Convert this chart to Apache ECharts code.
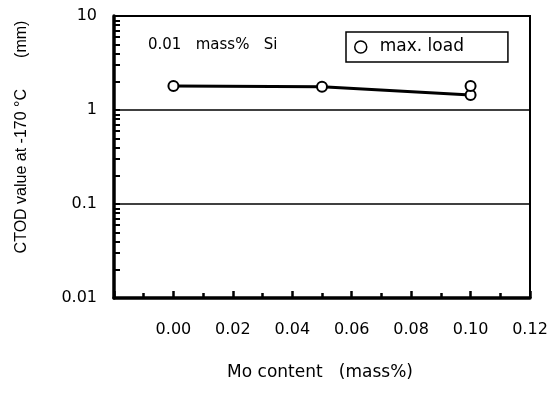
<!DOCTYPE html>
<html>
<head>
<meta charset="utf-8">
<script src="https://cdn.jsdelivr.net/npm/echarts@6/dist/echarts.min.js"></script>
<style>html,body{margin:0;padding:0;background:#fff}#c{width:555px;height:394px}</style>
</head>
<body>
<div id="c"></div>
<script>
// Data
const seriesName = 'max. load';
const moContent = [0.00, 0.05, 0.10];
const ctodLine = [1.80, 1.77, 1.44];
const extraMo = [0.10];
const extraCtod = [1.80];
const xTickLabels = ['0.00', '0.02', '0.04', '0.06', '0.08', '0.10', '0.12'];
const yTickLabels = ['0.01', '0.1', '1', '10'];
const yMinorTicks = [0.02,0.03,0.04,0.05,0.06,0.07,0.08,0.09,0.1,0.2,0.3,0.4,0.5,0.6,0.7,0.8,0.9,1,2,3,4,5,6,7,8,9];
const yGridLines = [0.1, 1];
const titleText = '0.01   mass%   Si';
const xName = 'Mo content   (mass%)';
const yName = 'CTOD value at -170 \u00B0C       (mm)';

const FONT = 'DejaVu Sans';
const chart = echarts.init(document.getElementById('c'), null, {renderer: 'canvas'});
const lineData = moContent.map((x, i) => [x, ctodLine[i]]);
const extraData = extraMo.map((x, i) => [x, extraCtod[i]]);

chart.setOption({
  animation: false,
  backgroundColor: '#fff',
  grid: {left: 114, right: 25, top: 16, bottom: 96, show: true, borderColor: '#000', borderWidth: 2, backgroundColor: 'transparent'},
  xAxis: {
    type: 'value', min: -0.02, max: 0.12, interval: 0.02,
    axisLine: {show: true, onZero: false, lineStyle: {color: '#000', width: 3.5}},
    axisTick: {show: true, inside: true, length: 7, lineStyle: {color: '#000', width: 2.5}},
    minorTick: {show: true, splitNumber: 2, length: 5, lineStyle: {color: '#000', width: 2.5}},
    splitLine: {show: false},
    axisLabel: {
      margin: 24, color: '#000', fontFamily: FONT, fontSize: 16,
      formatter: function (v) {
        const idx = Math.round(v / 0.02);
        return idx >= 0 && idx < xTickLabels.length ? xTickLabels[idx] : '';
      }
    }
  },
  yAxis: {
    type: 'log', logBase: 10, min: 0.01, max: 10,
    axisLine: {show: true, onZero: false, lineStyle: {color: '#000', width: 3.5}},
    axisTick: {show: true, inside: true, length: 6, customValues: yMinorTicks, lineStyle: {color: '#000', width: 2}},
    splitLine: {show: false},
    axisLabel: {
      margin: 17, color: '#000', fontFamily: FONT, fontSize: 16,
      formatter: function (v) {
        const e = Math.round(Math.log10(v)) + 2;
        return yTickLabels[e] || '';
      }
    }
  },
  legend: {
    data: [seriesName], left: 346, top: 32, orient: 'horizontal',
    icon: 'circle', itemWidth: 12, itemHeight: 12,
    padding: [6, 44, 6, 8],
    borderColor: '#000', borderWidth: 1.5, backgroundColor: '#fff',
    itemStyle: {color: '#fff', borderColor: '#000', borderWidth: 1.5},
    textStyle: {color: '#000', fontFamily: FONT, fontSize: 17, lineHeight: 18, padding: [0, 0, 0, 8]}
  },
  graphic: [
    {type: 'text', left: 148, top: 38, style: {text: titleText, fill: '#000', font: '15px "' + FONT + '"'}},
    {type: 'text', x: 22, y: 137, rotation: Math.PI / 2, style: {text: yName, fill: '#000', font: '16px "Liberation Sans"', align: 'center', verticalAlign: 'middle'}},
    {type: 'text', x: 320, y: 373, style: {text: xName, fill: '#000', font: '17px "' + FONT + '"', align: 'center', verticalAlign: 'middle'}}
  ],
  series: [
    {
      name: seriesName, type: 'line', data: lineData,
      symbol: 'circle', symbolSize: 10, showSymbol: true,
      lineStyle: {color: '#000', width: 3},
      itemStyle: {color: '#fff', borderColor: '#000', borderWidth: 2},
      markLine: {
        silent: true, symbol: 'none', label: {show: false},
        lineStyle: {color: '#000', width: 1.5, type: 'solid'},
        data: yGridLines.map(v => ({yAxis: v}))
      },
      z: 3
    },
    {
      name: 'extra', type: 'scatter', data: extraData,
      symbol: 'circle', symbolSize: 10,
      itemStyle: {color: '#fff', borderColor: '#000', borderWidth: 2, opacity: 1},
      z: 4
    }
  ]
});
</script>
</body>
</html>
